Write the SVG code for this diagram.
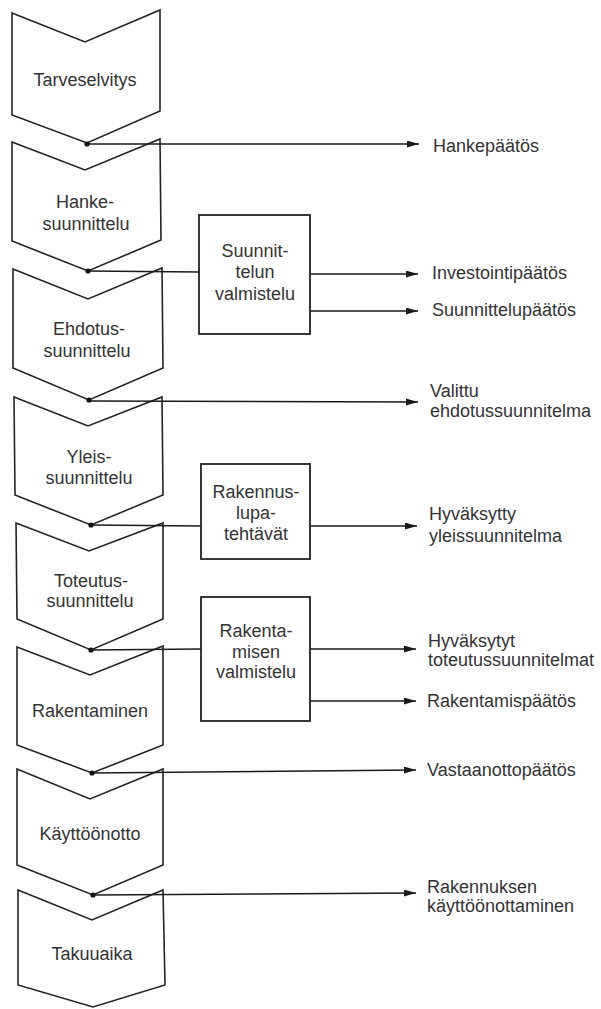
<svg xmlns="http://www.w3.org/2000/svg" width="601" height="1009" viewBox="0 0 601 1009">
<style>
.shape{fill:#fff;stroke:#222;stroke-width:1.6;stroke-linejoin:miter}
.box{fill:#fff;stroke:#222;stroke-width:1.8}
.ln{fill:none;stroke:#1a1a1a;stroke-width:1.6}
.arr{fill:none;stroke:#1a1a1a;stroke-width:1.6;marker-end:url(#ah)}
.dot{fill:#111}
text{font-family:"Liberation Sans",Arial,sans-serif;font-size:18px;fill:#333}
.c{text-anchor:middle}
</style>
<defs>
<marker id="ah" markerUnits="userSpaceOnUse" markerWidth="13" markerHeight="8" refX="12" refY="3.5" orient="auto">
<path d="M0,0 L12,3.5 L0,7 z" fill="#1a1a1a"/>
</marker>
</defs>
<rect width="601" height="1009" fill="#fff"/>
<g id="n1"><polygon class="shape" points="12,13 85,42 160,10 160,111 87,143 12,115"/><text class="c" x="85" y="86">Tarveselvitys</text></g>
<g id="n2"><polygon class="shape" points="12,142 85,170 160,139 161,240 88,271 12,241"/><text class="c" x="85" y="208">Hanke-</text><text class="c" x="86" y="230">suunnittelu</text></g>
<g id="n3"><polygon class="shape" points="13,269 88,299 162,268 163,368 89,400 13,368"/><text class="c" x="89" y="335">Ehdotus-</text><text class="c" x="87" y="357">suunnittelu</text></g>
<g id="n4"><polygon class="shape" points="14,397 88,426 162,397 163,495 91,525 15,495"/><text class="c" x="89" y="463">Yleis-</text><text class="c" x="89" y="484">suunnittelu</text></g>
<g id="n5"><polygon class="shape" points="16,523 89,551 163,523 163,619 91,650 17,619"/><text class="c" x="91" y="587">Toteutus-</text><text class="c" x="90" y="607">suunnittelu</text></g>
<g id="n6"><polygon class="shape" points="17,647 90,675 163,646 163,745 92,773 17,745"/><text class="c" x="90" y="717">Rakentaminen</text></g>
<g id="n7"><polygon class="shape" points="17,769 90,799 163,769 163,865 93,895 17,865"/><text class="c" x="90" y="840">Käyttöönotto</text></g>
<g id="n8"><polygon class="shape" points="18,890 92,920 163,890 165,985 93,1007 18,985"/><text class="c" x="92" y="960">Takuuaika</text></g>
<g id="b1"><rect class="box" x="199" y="215" width="111" height="119"/><text class="c" x="255" y="257">Suunnit-</text><text class="c" x="255" y="278">telun</text><text class="c" x="255" y="300">valmistelu</text></g>
<g id="b2"><rect class="box" x="201" y="464" width="109" height="95"/><text class="c" x="256" y="498">Rakennus-</text><text class="c" x="256" y="519">lupa-</text><text class="c" x="256" y="540">tehtävät</text></g>
<g id="b3"><rect class="box" x="201" y="597" width="109" height="124"/><text class="c" x="256" y="637">Rakenta-</text><text class="c" x="256" y="658">misen</text><text class="c" x="256" y="678">valmistelu</text></g>
<g id="outputs">
<text x="433" y="152">Hankepäätös</text>
<text x="432" y="279">Investointipäätös</text>
<text x="432" y="316">Suunnittelupäätös</text>
<text x="430" y="397">Valittu</text><text x="430" y="417">ehdotussuunnitelma</text>
<text x="429" y="520">Hyväksytty</text><text x="429" y="542">yleissuunnitelma</text>
<text x="428" y="647">Hyväksytyt</text><text x="428" y="666">toteutussuunnitelmat</text>
<text x="427" y="707">Rakentamispäätös</text>
<text x="427" y="776">Vastaanottopäätös</text>
<text x="427" y="893">Rakennuksen</text><text x="427" y="912">käyttöönottaminen</text>
</g>
<g id="connectors">
<path class="arr" d="M87,144 L419,144"/>
<path class="ln" d="M88,271 L199,272"/>
<path class="arr" d="M310,274 L418,274"/>
<path class="arr" d="M310,311 L418,311"/>
<path class="arr" d="M89,401 L418,402"/>
<path class="ln" d="M91,525 L201,526"/>
<path class="arr" d="M310,526 L417,526"/>
<path class="ln" d="M91,650 L201,649"/>
<path class="arr" d="M310,649 L416,649"/>
<path class="arr" d="M310,701 L416,701"/>
<path class="arr" d="M92,773 L416,770"/>
<path class="arr" d="M93,895 L416,893"/>
<circle class="dot" cx="87" cy="144" r="2.6"/>
<circle class="dot" cx="88" cy="271" r="2.6"/>
<circle class="dot" cx="89" cy="400" r="2.6"/>
<circle class="dot" cx="91" cy="525" r="2.6"/>
<circle class="dot" cx="91" cy="650" r="2.6"/>
<circle class="dot" cx="92" cy="773" r="2.6"/>
<circle class="dot" cx="93" cy="895" r="2.6"/>
</g>
</svg>
